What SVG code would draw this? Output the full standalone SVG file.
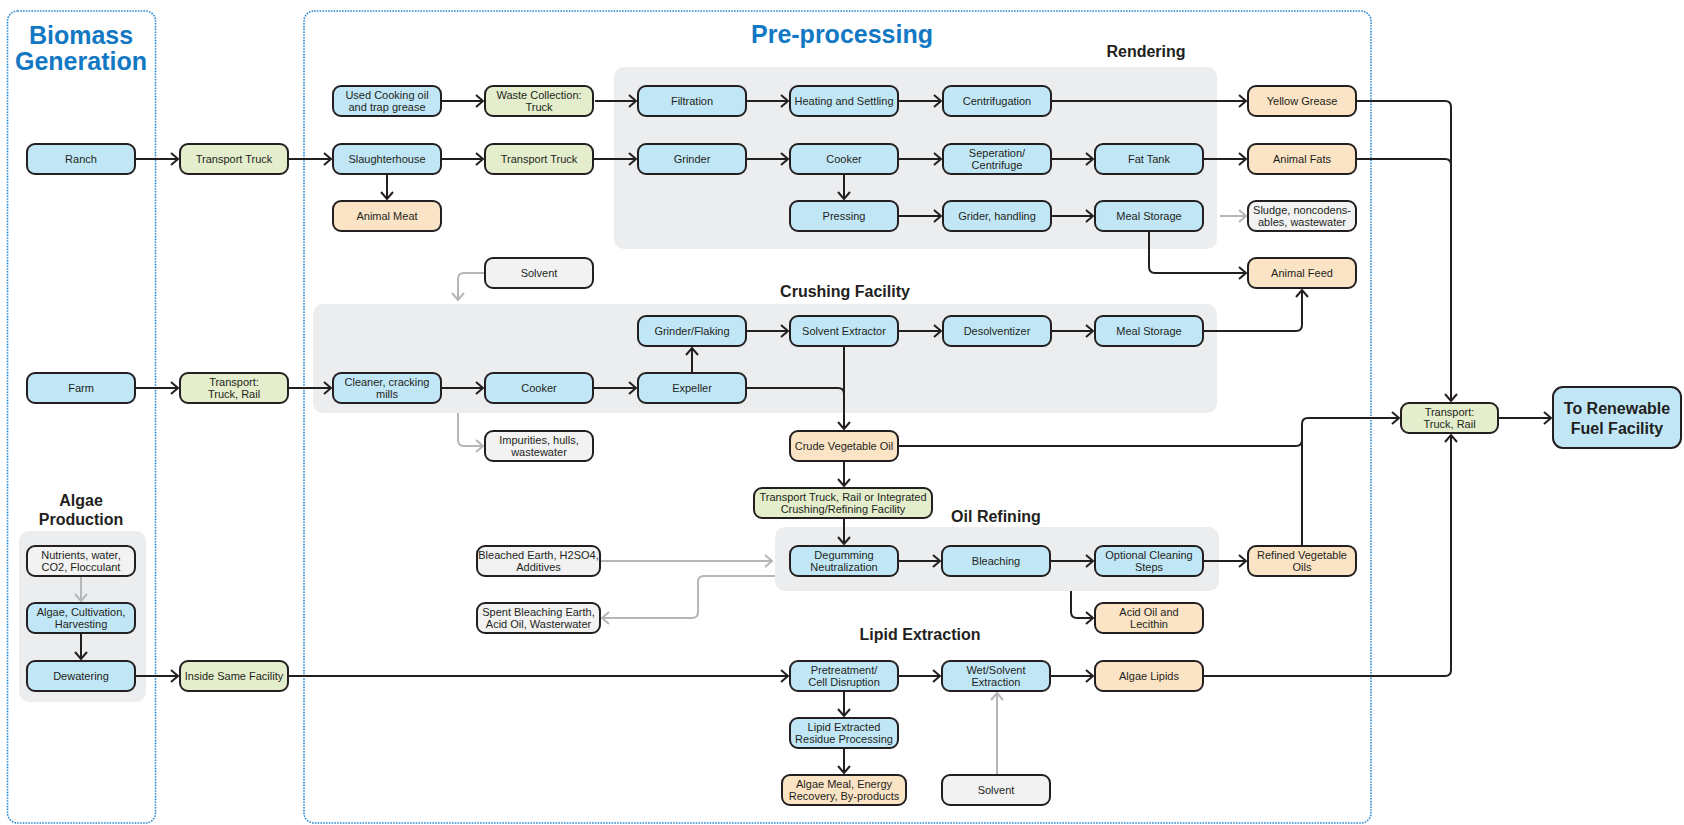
<svg xmlns="http://www.w3.org/2000/svg" width="1684" height="825" viewBox="0 0 1684 825">
<style>
.dot{fill:none;stroke:#2b8ad2;stroke-width:1.6;stroke-dasharray:1.6 1.2}
.grp{fill:#ecedef}
.n rect{stroke:#231f20;stroke-width:2}
.blue{fill:#c1e7f7}
.green{fill:#e5eecc}
.orange{fill:#fbe4c6}
.gray{fill:#f2f2f3}
text{font-family:"Liberation Sans",Arial,sans-serif;fill:#231f20;text-anchor:middle}
.t{font-size:11px}
.h{font-size:16px;font-weight:bold}
.big{font-size:25px;font-weight:bold;fill:#1278c3}
.c path{fill:none;stroke:#231f20;stroke-width:2;marker-end:url(#ah)}
.c path.g{stroke:#b4b6b8;marker-end:url(#ag)}
</style>
<defs>
<marker id="ah" markerUnits="userSpaceOnUse" markerWidth="12" markerHeight="14" viewBox="0 0 12 14" refX="10" refY="7" orient="auto"><path d="M3,1 L10,7 L3,13" fill="none" stroke="#231f20" stroke-width="2"/></marker>
<marker id="ag" markerUnits="userSpaceOnUse" markerWidth="12" markerHeight="14" viewBox="0 0 12 14" refX="10" refY="7" orient="auto"><path d="M3,1 L10,7 L3,13" fill="none" stroke="#b4b6b8" stroke-width="2"/></marker>
</defs>
<rect width="1684" height="825" fill="#fff"/>
<g id="frames">
<rect class="dot" x="7.5" y="11" width="148" height="812" rx="10"/>
<rect class="dot" x="304" y="11" width="1067" height="812" rx="10"/>
<rect class="grp" x="614" y="67" width="603" height="182" rx="10"/>
<rect class="grp" x="313" y="304" width="904" height="109" rx="10"/>
<rect class="grp" x="775" y="527" width="444" height="64" rx="10"/>
<rect class="grp" x="19" y="531" width="127" height="171" rx="10"/>
</g>
<g id="titles">
<text class="big" x="81" y="44">Biomass</text>
<text class="big" x="81" y="70">Generation</text>
<text class="big" x="842" y="43">Pre-processing</text>
<text class="h" x="1146" y="57">Rendering</text>
<text class="h" x="845" y="297">Crushing Facility</text>
<text class="h" x="996" y="522">Oil Refining</text>
<text class="h" x="920" y="640">Lipid Extraction</text>
<text class="h" x="81" y="506">Algae</text>
<text class="h" x="81" y="525">Production</text>
</g>
<g id="connectors" class="c">
<path d="M442,101 H483"/>
<path d="M595,101 H636"/>
<path d="M745,101 H788"/>
<path d="M898,101 H941"/>
<path d="M1051,101 H1246"/>
<path d="M135,159 H178"/>
<path d="M288,159 H331"/>
<path d="M441,159 H483"/>
<path d="M593,159 H636"/>
<path d="M746,159 H788"/>
<path d="M898,159 H941"/>
<path d="M1051,159 H1093"/>
<path d="M1203,159 H1246"/>
<path d="M387,174 V199"/>
<path d="M844,174 V199"/>
<path d="M898,216 H941"/>
<path d="M1051,216 H1093"/>
<path d="M1149,231 V267 Q1149,273 1155,273 H1246"/>
<path d="M135,388 H178"/>
<path d="M288,388 H331"/>
<path d="M441,388 H483"/>
<path d="M593,388 H636"/>
<path d="M692,373 V348"/>
<path d="M746,331 H788"/>
<path d="M898,331 H941"/>
<path d="M1051,331 H1093"/>
<path d="M1203,331 H1296 Q1302,331 1302,325 V290"/>
<path d="M844,346 V429"/>
<path d="M746,388 H838 Q844,388 844,394" style="marker-end:none"/>
<path d="M844,461 V486"/>
<path d="M844,518 V544"/>
<path d="M898,561 H940"/>
<path d="M1051,561 H1093"/>
<path d="M1204,561 H1246"/>
<path d="M1071,591 V612 Q1071,618 1077,618 H1093"/>
<path d="M1302,546 V424 Q1302,418 1308,418 H1399"/>
<path d="M898,446 H1296 Q1302,446 1302,440" style="marker-end:none"/>
<path d="M1356,101 H1445 Q1451,101 1451,107 V401"/>
<path d="M1356,159 H1445 Q1451,159 1451,165" style="marker-end:none"/>
<path d="M1203,676 H1445 Q1451,676 1451,670 V435"/>
<path d="M1499,418 H1551"/>
<path d="M288,676 H788"/>
<path d="M135,676 H178"/>
<path d="M81,633 V659"/>
<path d="M898,676 H940"/>
<path d="M1051,676 H1093"/>
<path d="M844,691 V716"/>
<path d="M844,748 V773"/>
<path class="g" d="M81,576 V601"/>
<path class="g" d="M485,273 H464 Q458,273 458,279 V300"/>
<path class="g" d="M458,413 V440 Q458,446 464,446 H483"/>
<path class="g" d="M1220,216 H1246"/>
<path class="g" d="M601,561 H772"/>
<path class="g" d="M775,576 H704 Q698,576 698,582 V612 Q698,618 692,618 H602"/>
<path class="g" d="M997,775 V693"/>
</g>
<g id="n-used" class="n"><rect class="blue" x="333" y="86" width="108" height="30" rx="8"/><text class="t" x="387" y="99">Used Cooking oil</text><text class="t" x="387" y="111">and trap grease</text></g>
<g id="n-waste" class="n"><rect class="green" x="485" y="86" width="108" height="30" rx="8"/><text class="t" x="539" y="99">Waste Collection:</text><text class="t" x="539" y="111">Truck</text></g>
<g id="n-filtration" class="n"><rect class="blue" x="638" y="86" width="108" height="30" rx="8"/><text class="t" x="692" y="105">Filtration</text></g>
<g id="n-heating" class="n"><rect class="blue" x="790" y="86" width="108" height="30" rx="8"/><text class="t" x="844" y="105">Heating and Settling</text></g>
<g id="n-centrifugation" class="n"><rect class="blue" x="943" y="86" width="108" height="30" rx="8"/><text class="t" x="997" y="105">Centrifugation</text></g>
<g id="n-yellow" class="n"><rect class="orange" x="1248" y="86" width="108" height="30" rx="8"/><text class="t" x="1302" y="105">Yellow Grease</text></g>
<g id="n-ranch" class="n"><rect class="blue" x="27" y="144" width="108" height="30" rx="8"/><text class="t" x="81" y="163">Ranch</text></g>
<g id="n-truck1" class="n"><rect class="green" x="180" y="144" width="108" height="30" rx="8"/><text class="t" x="234" y="163">Transport Truck</text></g>
<g id="n-slaughter" class="n"><rect class="blue" x="333" y="144" width="108" height="30" rx="8"/><text class="t" x="387" y="163">Slaughterhouse</text></g>
<g id="n-truck2" class="n"><rect class="green" x="485" y="144" width="108" height="30" rx="8"/><text class="t" x="539" y="163">Transport Truck</text></g>
<g id="n-grinder" class="n"><rect class="blue" x="638" y="144" width="108" height="30" rx="8"/><text class="t" x="692" y="163">Grinder</text></g>
<g id="n-cooker1" class="n"><rect class="blue" x="790" y="144" width="108" height="30" rx="8"/><text class="t" x="844" y="163">Cooker</text></g>
<g id="n-separation" class="n"><rect class="blue" x="943" y="144" width="108" height="30" rx="8"/><text class="t" x="997" y="157">Seperation/</text><text class="t" x="997" y="169">Centrifuge</text></g>
<g id="n-fattank" class="n"><rect class="blue" x="1095" y="144" width="108" height="30" rx="8"/><text class="t" x="1149" y="163">Fat Tank</text></g>
<g id="n-animalfats" class="n"><rect class="orange" x="1248" y="144" width="108" height="30" rx="8"/><text class="t" x="1302" y="163">Animal Fats</text></g>
<g id="n-animalmeat" class="n"><rect class="orange" x="333" y="201" width="108" height="30" rx="8"/><text class="t" x="387" y="220">Animal Meat</text></g>
<g id="n-pressing" class="n"><rect class="blue" x="790" y="201" width="108" height="30" rx="8"/><text class="t" x="844" y="220">Pressing</text></g>
<g id="n-grider" class="n"><rect class="blue" x="943" y="201" width="108" height="30" rx="8"/><text class="t" x="997" y="220">Grider, handling</text></g>
<g id="n-meal1" class="n"><rect class="blue" x="1095" y="201" width="108" height="30" rx="8"/><text class="t" x="1149" y="220">Meal Storage</text></g>
<g id="n-sludge" class="n"><rect class="gray" x="1248" y="201" width="108" height="30" rx="8"/><text class="t" x="1302" y="214">Sludge, noncodens-</text><text class="t" x="1302" y="226">ables, wastewater</text></g>
<g id="n-animalfeed" class="n"><rect class="orange" x="1248" y="258" width="108" height="30" rx="8"/><text class="t" x="1302" y="277">Animal Feed</text></g>
<g id="n-solvent1" class="n"><rect class="gray" x="485" y="258" width="108" height="30" rx="8"/><text class="t" x="539" y="277">Solvent</text></g>
<g id="n-grinderflaking" class="n"><rect class="blue" x="638" y="316" width="108" height="30" rx="8"/><text class="t" x="692" y="335">Grinder/Flaking</text></g>
<g id="n-solventext" class="n"><rect class="blue" x="790" y="316" width="108" height="30" rx="8"/><text class="t" x="844" y="335">Solvent Extractor</text></g>
<g id="n-desolv" class="n"><rect class="blue" x="943" y="316" width="108" height="30" rx="8"/><text class="t" x="997" y="335">Desolventizer</text></g>
<g id="n-meal2" class="n"><rect class="blue" x="1095" y="316" width="108" height="30" rx="8"/><text class="t" x="1149" y="335">Meal Storage</text></g>
<g id="n-farm" class="n"><rect class="blue" x="27" y="373" width="108" height="30" rx="8"/><text class="t" x="81" y="392">Farm</text></g>
<g id="n-transport2" class="n"><rect class="green" x="180" y="373" width="108" height="30" rx="8"/><text class="t" x="234" y="386">Transport:</text><text class="t" x="234" y="398">Truck, Rail</text></g>
<g id="n-cleaner" class="n"><rect class="blue" x="333" y="373" width="108" height="30" rx="8"/><text class="t" x="387" y="386">Cleaner, cracking</text><text class="t" x="387" y="398">mills</text></g>
<g id="n-cooker2" class="n"><rect class="blue" x="485" y="373" width="108" height="30" rx="8"/><text class="t" x="539" y="392">Cooker</text></g>
<g id="n-expeller" class="n"><rect class="blue" x="638" y="373" width="108" height="30" rx="8"/><text class="t" x="692" y="392">Expeller</text></g>
<g id="n-crude" class="n"><rect class="orange" x="790" y="431" width="108" height="30" rx="8"/><text class="t" x="844" y="450">Crude Vegetable Oil</text></g>
<g id="n-impurities" class="n"><rect class="gray" x="485" y="431" width="108" height="30" rx="8"/><text class="t" x="539" y="444">Impurities, hulls,</text><text class="t" x="539" y="456">wastewater</text></g>
<g id="n-transint" class="n"><rect class="green" x="754" y="488" width="178" height="30" rx="8"/><text class="t" x="843" y="501">Transport Truck, Rail or Integrated</text><text class="t" x="843" y="513">Crushing/Refining Facility</text></g>
<g id="n-degumming" class="n"><rect class="blue" x="790" y="546" width="108" height="30" rx="8"/><text class="t" x="844" y="559">Degumming</text><text class="t" x="844" y="571">Neutralization</text></g>
<g id="n-bleaching" class="n"><rect class="blue" x="942" y="546" width="108" height="30" rx="8"/><text class="t" x="996" y="565">Bleaching</text></g>
<g id="n-optional" class="n"><rect class="blue" x="1095" y="546" width="108" height="30" rx="8"/><text class="t" x="1149" y="559">Optional Cleaning</text><text class="t" x="1149" y="571">Steps</text></g>
<g id="n-refined" class="n"><rect class="orange" x="1248" y="546" width="108" height="30" rx="8"/><text class="t" x="1302" y="559">Refined Vegetable</text><text class="t" x="1302" y="571">Oils</text></g>
<g id="n-bleached" class="n"><rect class="gray" x="477" y="546" width="123" height="30" rx="8"/><text class="t" x="538.5" y="559">Bleached Earth, H2SO4,</text><text class="t" x="538.5" y="571">Additives</text></g>
<g id="n-spent" class="n"><rect class="gray" x="477" y="603" width="123" height="30" rx="8"/><text class="t" x="538.5" y="616">Spent Bleaching Earth,</text><text class="t" x="538.5" y="628">Acid Oil, Wasterwater</text></g>
<g id="n-acidoil" class="n"><rect class="orange" x="1095" y="603" width="108" height="30" rx="8"/><text class="t" x="1149" y="616">Acid Oil and</text><text class="t" x="1149" y="628">Lecithin</text></g>
<g id="n-nutrients" class="n"><rect class="gray" x="27" y="546" width="108" height="30" rx="8"/><text class="t" x="81" y="559">Nutrients, water,</text><text class="t" x="81" y="571">CO2, Flocculant</text></g>
<g id="n-algaecult" class="n"><rect class="blue" x="27" y="603" width="108" height="30" rx="8"/><text class="t" x="81" y="616">Algae, Cultivation,</text><text class="t" x="81" y="628">Harvesting</text></g>
<g id="n-dewatering" class="n"><rect class="blue" x="27" y="661" width="108" height="30" rx="8"/><text class="t" x="81" y="680">Dewatering</text></g>
<g id="n-inside" class="n"><rect class="green" x="180" y="661" width="108" height="30" rx="8"/><text class="t" x="234" y="680">Inside Same Facility</text></g>
<g id="n-pretreat" class="n"><rect class="blue" x="790" y="661" width="108" height="30" rx="8"/><text class="t" x="844" y="674">Pretreatment/</text><text class="t" x="844" y="686">Cell Disruption</text></g>
<g id="n-wetsolvent" class="n"><rect class="blue" x="942" y="661" width="108" height="30" rx="8"/><text class="t" x="996" y="674">Wet/Solvent</text><text class="t" x="996" y="686">Extraction</text></g>
<g id="n-algaelipids" class="n"><rect class="orange" x="1095" y="661" width="108" height="30" rx="8"/><text class="t" x="1149" y="680">Algae Lipids</text></g>
<g id="n-residue" class="n"><rect class="blue" x="790" y="718" width="108" height="30" rx="8"/><text class="t" x="844" y="731">Lipid Extracted</text><text class="t" x="844" y="743">Residue Processing</text></g>
<g id="n-algaemeal" class="n"><rect class="orange" x="782" y="775" width="124" height="30" rx="8"/><text class="t" x="844" y="788">Algae Meal, Energy</text><text class="t" x="844" y="800">Recovery, By-products</text></g>
<g id="n-solvent2" class="n"><rect class="gray" x="942" y="775" width="108" height="30" rx="8"/><text class="t" x="996" y="794">Solvent</text></g>
<g id="n-transport3" class="n"><rect class="green" x="1401" y="403" width="97" height="30" rx="8"/><text class="t" x="1449.5" y="416">Transport:</text><text class="t" x="1449.5" y="428">Truck, Rail</text></g>
<g id="n-renewable" class="n"><rect class="blue" x="1553" y="387" width="128" height="61" rx="10"/><text class="h" x="1617" y="414">To Renewable</text><text class="h" x="1617" y="434">Fuel Facility</text></g>
</svg>
